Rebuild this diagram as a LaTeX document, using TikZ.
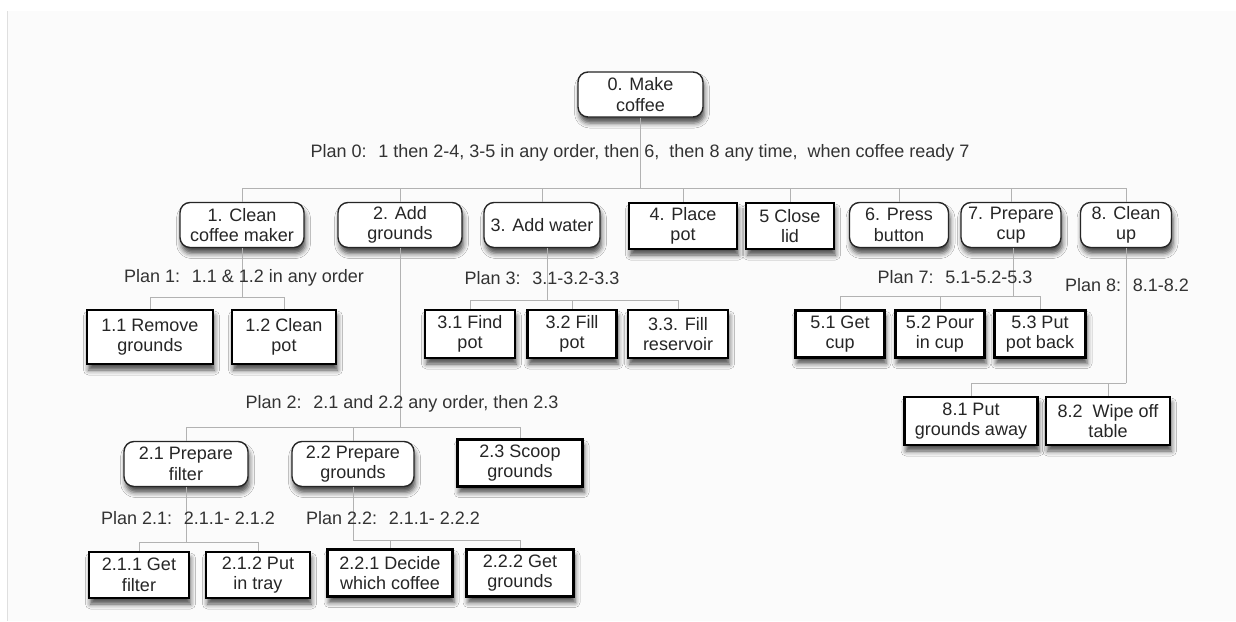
\documentclass[tikz,border=0pt]{standalone}
\usepackage{fontspec}
\setmainfont{Liberation Sans}
\usetikzlibrary{shadows.blur}
\tikzset{
  conn/.style={draw=black!30, line width=0.8pt},
  base/.style={fill=white, align=center, inner sep=0pt, text=black!85,
    font=\fontsize{18}{20.5}\selectfont,
    blur shadow={shadow xshift=1.5pt, shadow yshift=-6pt, shadow blur radius=5pt, shadow opacity=70}},
  rbox/.style={base, draw=black!85, line width=1.4pt, rounded corners=10pt},
  sbox/.style={base, draw=black, line width=2.8pt},
  plan/.style={text=black!80, font=\fontsize{18}{20}\selectfont, inner sep=0pt}
}
\begin{document}
\begin{tikzpicture}[x=1pt,y=-1pt]
\useasboundingbox (0,0) rectangle (1236,621);
\fill[gray!3] (7,11) rectangle (1236,621);
\draw[gray!25, line width=0.8pt] (7.5,11) -- (7.5,621);

% level 0
\node[rbox, minimum width=125pt, minimum height=45pt] (n0) at (640.5,94.5) {0. Make\\coffee};
% level 1
\node[rbox, minimum width=124pt, minimum height=45pt] (n1) at (242,225) {1. Clean\\coffee maker};
\node[rbox, minimum width=124pt, minimum height=45pt] (n2) at (400,225) {2. Add\\grounds};
\node[rbox, minimum width=116pt, minimum height=45pt] (n3) at (542,225) {3. Add water};
\node[sbox, minimum width=108pt, minimum height=46pt] (n4) at (683,226) {4. Place\\pot};
\node[sbox, minimum width=88pt, minimum height=46pt] (n5) at (790,226) {5 Close\\lid};
\node[rbox, minimum width=99pt, minimum height=45pt] (n6) at (899,225) {6. Press\\button};
\node[rbox, minimum width=100pt, minimum height=45pt] (n7) at (1011,225) {7. Prepare\\cup};
\node[rbox, minimum width=91pt, minimum height=45pt] (n8) at (1126,225) {8. Clean\\up};
% level 2
\node[sbox, minimum width=126pt, minimum height=54pt] (n11) at (150,337) {1.1 Remove\\grounds};
\node[sbox, minimum width=104pt, minimum height=54pt] (n12) at (284,337) {1.2 Clean\\pot};
\node[sbox, minimum width=90pt, minimum height=48pt] (n31) at (470,334) {3.1 Find\\pot};
\node[sbox, minimum width=89pt, minimum height=48pt] (n32) at (572,334) {3.2 Fill\\pot};
\node[sbox, minimum width=100pt, minimum height=48pt] (n33) at (678,334) {3.3. Fill\\reservoir};
\node[sbox, minimum width=89pt, minimum height=47pt] (n51) at (840,334) {5.1 Get\\cup};
\node[sbox, minimum width=89pt, minimum height=47pt] (n52) at (940,334) {5.2 Pour\\in cup};
\node[sbox, minimum width=91pt, minimum height=47pt] (n53) at (1040,334) {5.3 Put\\pot back};
\node[sbox, minimum width=133pt, minimum height=48pt] (n81) at (971,421) {8.1 Put\\grounds away};
\node[sbox, minimum width=124pt, minimum height=48pt] (n82) at (1108,421) {8.2~ Wipe off\\table};
\node[rbox, minimum width=124pt, minimum height=45pt] (n21) at (186,464) {2.1 Prepare\\filter};
\node[rbox, minimum width=122pt, minimum height=45pt] (n22) at (353,464) {2.2 Prepare\\grounds};
\node[sbox, minimum width=125pt, minimum height=47pt] (n23) at (520,463) {2.3 Scoop\\grounds};
% level 3
\node[sbox, minimum width=100pt, minimum height=46pt] (n211) at (139,575) {2.1.1 Get\\filter};
\node[sbox, minimum width=104pt, minimum height=46pt] (n212) at (258,575) {2.1.2 Put\\in tray};
\node[sbox, minimum width=125pt, minimum height=47pt] (n221) at (390,573) {2.2.1 Decide\\which coffee};
\node[sbox, minimum width=107pt, minimum height=47pt] (n222) at (520,573) {2.2.2 Get\\grounds};

% bar heights
\coordinate (j0) at (0,188);
\coordinate (j1) at (0,297);
\coordinate (j3) at (0,300);
\coordinate (j7) at (0,296);
\coordinate (j8) at (0,383);
\coordinate (j2) at (0,427);
\coordinate (j21) at (0,542);
\coordinate (j22) at (0,540);

\draw[conn] (n0.south) -- (n0.south |- j0);
\foreach \c in {n1,n2,n3,n4,n5,n6,n7,n8} {\draw[conn] (n0.south |- j0) -| (\c.north);}
\draw[conn] (n1.south) -- (n1.south |- j1);
\foreach \c in {n11,n12} {\draw[conn] (n1.south |- j1) -| (\c.north);}
\draw[conn] ([xshift=5pt]n3.south) -- ([xshift=5pt]n3.south |- j3);
\foreach \c in {n31,n32,n33} {\draw[conn] ([xshift=5pt]n3.south |- j3) -| (\c.north);}
\draw[conn] ([xshift=2pt]n7.south) -- ([xshift=2pt]n7.south |- j7);
\foreach \c in {n51,n52,n53} {\draw[conn] ([xshift=2pt]n7.south |- j7) -| (\c.north);}
\draw[conn] (n8.south) -- (n8.south |- j8);
\foreach \c in {n81,n82} {\draw[conn] (n8.south |- j8) -| (\c.north);}
\draw[conn] (n2.south) -- (n2.south |- j2);
\foreach \c in {n21,n22,n23} {\draw[conn] (n2.south |- j2) -| (\c.north);}
\draw[conn] (n21.south) -- (n21.south |- j21);
\foreach \c in {n211,n212} {\draw[conn] (n21.south |- j21) -| (\c.north);}
\draw[conn] (n22.south) -- (n22.south |- j22);
\foreach \c in {n221,n222} {\draw[conn] (n22.south |- j22) -| (\c.north);}

% plan labels
\node[plan] (p0) at (640,153) {Plan 0:~ 1 then 2-4, 3-5 in any order, then 6,~ then 8 any time,~ when coffee ready 7};
\node[plan] (p1) at (244,278) {Plan 1:~ 1.1 \& 1.2 in any order};
\node[plan] (p3) at (542,278) {Plan 3:~ 3.1-3.2-3.3};
\node[plan] (p7) at (955,277) {Plan 7:~ 5.1-5.2-5.3};
\node[plan] (p8) at (1127,285) {Plan 8:~ 8.1-8.2};
\node[plan] (p2) at (402,404) {Plan 2:~ 2.1 and 2.2 any order, then 2.3};
\node[plan] (p21) at (188,518) {Plan 2.1:~ 2.1.1- 2.1.2};
\node[plan] (p22) at (393,518) {Plan 2.2:~ 2.1.1- 2.2.2};
\end{tikzpicture}
\end{document}
